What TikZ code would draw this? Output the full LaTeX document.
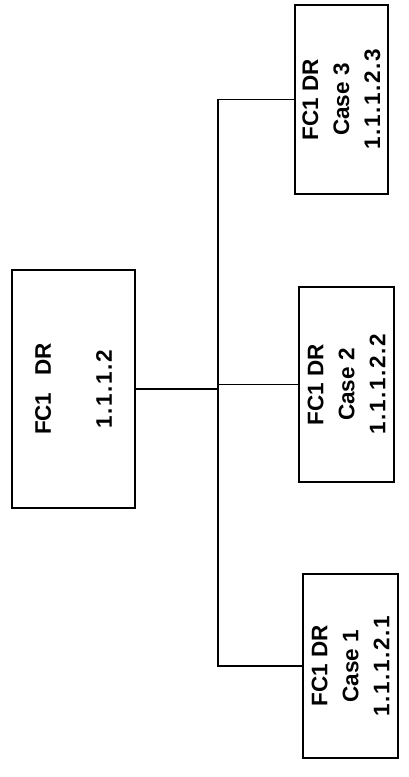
\documentclass[tikz,border=0pt]{standalone}
\usepackage{fontspec}
\setmainfont{Liberation Sans}
\newcommand{\pd}{\kern1.6pt.\kern1.6pt}
\tikzset{
  box/.style={draw=black, line width=1.6pt, inner sep=0pt, align=center, rotate=90,
              font=\bfseries\fontsize{22.5}{31}\selectfont},
  link/.style={line width=1.3pt}
}
\begin{document}
\begin{tikzpicture}[x=1pt,y=1pt]
\useasboundingbox (0,0) rectangle (408,777);
% rotated nodes: north anchor faces page-left, south anchor faces page-right
\node[box, minimum width=238pt, minimum height=123pt,
      font=\bfseries\fontsize{22.5}{61}\selectfont] (root) at (73.5,388)
  {FC1\kern17pt DR\\1\pd 1\pd 1\pd 2};
\node[box, minimum width=189pt, minimum height=93pt] (c3) at (341.5,677.5)
  {FC1 DR\\Case 3\\1\pd 1\pd 1\pd 2\pd 3};
\node[box, minimum width=195pt, minimum height=95pt] (c2) at (346.5,392.5)
  {FC1 DR\\Case 2\\1\pd 1\pd 1\pd 2\pd 2};
\node[box, minimum width=184pt, minimum height=95pt] (c1) at (350.5,111)
  {FC1 DR\\Case 1\\1\pd 1\pd 1\pd 2\pd 1};
\coordinate (sp) at (218,388);
\draw[link] (c3.north) -- (c3.north -| sp) -- (c1.north -| sp) -- (c1.north);
\draw[link] (root.south) -- (root.south -| sp);
\draw[link] (c2.north) -- (c2.north -| sp);
\end{tikzpicture}
\end{document}
